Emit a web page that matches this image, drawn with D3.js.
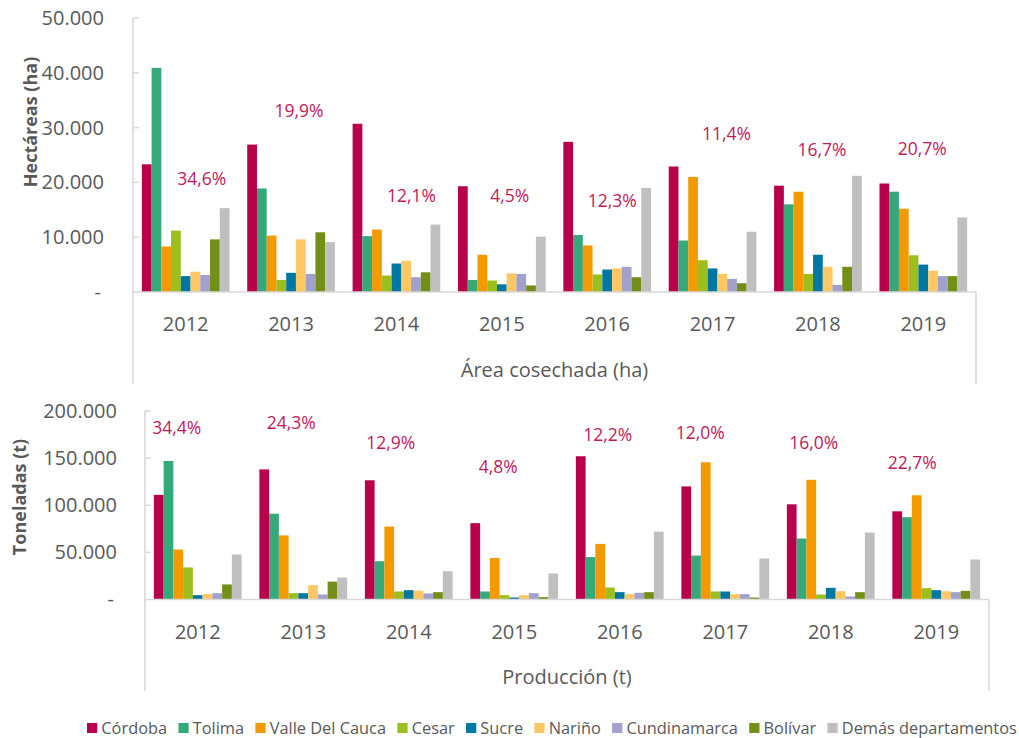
<!DOCTYPE html>
<html><head><meta charset="utf-8">
<script src="https://cdn.jsdelivr.net/npm/d3@7"></script>
<style>
body{margin:0;background:#fff}
svg{display:block}
text{font-family:"Open Sans","Noto Sans",sans-serif}
</style>
</head><body>
<svg id="chart" width="1019" height="738"></svg>
<script>
// ---------- DATA ----------
const years = ["2012","2013","2014","2015","2016","2017","2018","2019"];
const departments = ["Córdoba","Tolima","Valle Del Cauca","Cesar","Sucre","Nariño","Cundinamarca","Bolívar","Demás departamentos"];

// Área cosechada (ha)
const areaCordoba      = [23300, 26900, 30700, 19300, 27400, 22900, 19400, 19800];
const areaTolima       = [40900, 18900, 10200,  2200, 10400,  9400, 16000, 18300];
const areaValle        = [ 8300, 10300, 11400,  6800,  8500, 21000, 18300, 15200];
const areaCesar        = [11200,  2200,  3000,  2100,  3200,  5800,  3300,  6700];
const areaSucre        = [ 2900,  3500,  5200,  1400,  4100,  4300,  6800,  5000];
const areaNarino       = [ 3700,  9600,  5700,  3400,  4300,  3300,  4600,  3900];
const areaCundinamarca = [ 3100,  3300,  2700,  3300,  4600,  2400,  1300,  2900];
const areaBolivar      = [ 9600, 10900,  3600,  1200,  2700,  1600,  4600,  2900];
const areaDemas        = [15300,  9100, 12300, 10100, 19000, 11000, 21200, 13600];
const areaShare        = ["34,6%","19,9%","12,1%","4,5%","12,3%","11,4%","16,7%","20,7%"];
const areaShareAt      = [20800, 33200, 17700, 17700, 16800, 29000, 26100, 26300];
const areaTicks        = [0, 10000, 20000, 30000, 40000, 50000];

// Producción (t)
const prodCordoba      = [111000, 138000, 126500,  81000, 152000, 120000, 101000,  93600];
const prodTolima       = [147000,  91000,  40600,   8500,  45000,  46600,  64700,  87300];
const prodValle        = [ 53000,  68000,  77400,  44000,  59000, 145600, 127000, 110600];
const prodCesar        = [ 34000,   6700,   8500,   4600,  12700,   8500,   5300,  12000];
const prodSucre        = [  4600,   6700,   9900,   2100,   7800,   8500,  12400,   9900];
const prodNarino       = [  5700,  15200,   9500,   4600,   5700,   5700,   8800,   8800];
const prodCundinamarca = [  6700,   5300,   6400,   6700,   7100,   5700,   3200,   7800];
const prodBolivar      = [ 16000,  19000,   7800,   2500,   7800,   2100,   7800,   9200];
const prodDemas        = [ 47700,  23300,  30000,  27600,  72000,  43500,  71000,  42400];
const prodShare        = ["34,4%","24,3%","12,9%","4,8%","12,2%","12,0%","16,0%","22,7%"];
const prodShareAt      = [183000, 188000, 167000, 141600, 175600, 177700, 167000, 146000];
const prodTicks        = [0, 50000, 100000, 150000, 200000];

// ---------- STYLE ----------
const colors = ["#b9004b","#36a97b","#f39a00","#9cbf1f","#0076a3","#ffc764","#a2a1cc","#748f18","#bfbfbf"];
const areaLabelDx = [16, 8, 15, 8, 5, 14, 4, -1];
const prodLabelDx = [-21, -12, -18, -16, -12, -25, -17, -24];
const axisColor = "#d9d9d9";
const textColor = "#595959";
const pctColor = "#c01a5c";

const loc = d3.formatLocale({decimal: ",", thousands: ".", grouping: [3], currency: ["", ""]});
const fmt = loc.format(",.0f");

const svg = d3.select("#chart");

function buildRows(arrs){
  return years.map((y, i) => ({year: y, values: arrs.map((a, k) => ({dep: departments[k], v: a[i], k}))}));
}

function panel(cfg){
  const g = svg.append("g");
  const x = d3.scaleBand().domain(years).range([cfg.x0, cfg.x1]).paddingInner(0.168).paddingOuter(0.084);
  const xs = d3.scaleBand().domain(departments).range([0, x.bandwidth()]);
  const y = d3.scaleLinear().domain([0, cfg.max]).range([cfg.yZero, cfg.yTop]);
  const rows = buildRows(cfg.arrays);

  // bars
  const grp = g.selectAll("g.yr").data(rows).join("g")
    .attr("transform", d => `translate(${x(d.year)},0)`);
  grp.selectAll("rect").data(d => d.values).join("rect")
    .attr("x", d => xs(d.dep))
    .attr("width", xs.bandwidth())
    .attr("y", d => y(d.v))
    .attr("height", d => y(0) - y(d.v))
    .attr("fill", d => colors[d.k]);

  // y axis
  const yAxis = d3.axisLeft(y).tickValues(cfg.ticks).tickSize(0).tickPadding(0)
    .tickFormat(d => d === 0 ? "-" : fmt(d));
  const ya = g.append("g").attr("transform", `translate(${cfg.labelX},0)`).call(yAxis);
  ya.select(".domain").remove();
  ya.selectAll("text").attr("fill", textColor).style("font-size", "20px")
    .attr("dx", d => d === 0 ? -3 : 0);
  // inner tick marks
  g.selectAll("line.tk").data(cfg.ticks.filter(t => t > 0)).join("line")
    .attr("x1", cfg.x0).attr("x2", cfg.x0 + 6)
    .attr("y1", d => y(d)).attr("y2", d => y(d))
    .attr("stroke", axisColor).attr("stroke-width", 1.5);

  // axis lines / category box
  const line = (x1, y1, x2, y2) => g.append("line").attr("x1", x1).attr("y1", y1).attr("x2", x2).attr("y2", y2)
    .attr("stroke", axisColor).attr("stroke-width", 1.6);
  line(cfg.x0, y(cfg.max), cfg.x0, cfg.boxBottom);
  line(cfg.x1, y(0), cfg.x1, cfg.boxBottom);
  line(cfg.x0, y(0), cfg.x1, y(0));

  // x category labels
  g.selectAll("text.yr").data(years).join("text")
    .attr("x", d => x(d) + x.bandwidth() / 2)
    .attr("y", cfg.yearY)
    .attr("text-anchor", "middle").attr("dominant-baseline", "central")
    .attr("fill", textColor).style("font-size", "20px")
    .text(d => d);

  // outer category label
  g.append("text")
    .attr("x", (cfg.x0 + cfg.x1) / 2).attr("y", cfg.titleY)
    .attr("text-anchor", "middle").attr("dominant-baseline", "central")
    .attr("fill", textColor).style("font-size", "20px")
    .text(cfg.title);

  // y title
  g.append("text")
    .attr("transform", `translate(${cfg.yTitleX},${cfg.yTitleY}) rotate(-90)`)
    .attr("text-anchor", "middle").attr("dominant-baseline", "central")
    .attr("fill", textColor).style("font-size", "18px").style("font-weight", "700")
    .text(cfg.yTitle);

  // share labels
  g.selectAll("text.pct").data(years).join("text")
    .attr("x", (d, i) => x(d) + x.bandwidth() / 2 + cfg.labelDx[i])
    .attr("y", (d, i) => y(cfg.shareAt[i]))
    .attr("text-anchor", "middle").attr("dominant-baseline", "central")
    .attr("fill", pctColor).style("font-size", "17.5px")
    .text((d, i) => cfg.share[i]);
}

panel({
  arrays: [areaCordoba, areaTolima, areaValle, areaCesar, areaSucre, areaNarino, areaCundinamarca, areaBolivar, areaDemas],
  x0: 133, x1: 976, yZero: 292, yTop: 18, max: 50000, ticks: areaTicks,
  labelX: 104, boxBottom: 384, yearY: 323, titleY: 369, title: "Área cosechada (ha)",
  yTitle: "Hectáreas (ha)", yTitleX: 30, yTitleY: 122,
  share: areaShare, shareAt: areaShareAt, labelDx: areaLabelDx
});

panel({
  arrays: [prodCordoba, prodTolima, prodValle, prodCesar, prodSucre, prodNarino, prodCundinamarca, prodBolivar, prodDemas],
  x0: 145, x1: 989, yZero: 599.5, yTop: 411, max: 200000, ticks: prodTicks,
  labelX: 117, boxBottom: 691, yearY: 631, titleY: 676, title: "Producción (t)",
  yTitle: "Toneladas (t)", yTitleX: 19, yTitleY: 497,
  share: prodShare, shareAt: prodShareAt, labelDx: prodLabelDx
});

// ---------- LEGEND ----------
const leg = svg.append("g");
let cx = 0;
departments.forEach((d, i) => {
  const it = leg.append("g").attr("transform", `translate(${cx},0)`);
  it.append("rect").attr("x", 0).attr("y", -5).attr("width", 10).attr("height", 10).attr("fill", colors[i]);
  const t = it.append("text").attr("x", 14).attr("y", 0).attr("dominant-baseline", "central")
    .attr("fill", textColor).style("font-size", "16px").text(d);
  cx += 14 + t.node().getComputedTextLength() + 11;
});
const legW = cx - 11;
const legLeft = 87, legRight = 1017;
const sx = (legRight - legLeft) / legW;
leg.attr("transform", `translate(${legLeft},728) scale(${sx},1)`);
</script>
</body></html>
